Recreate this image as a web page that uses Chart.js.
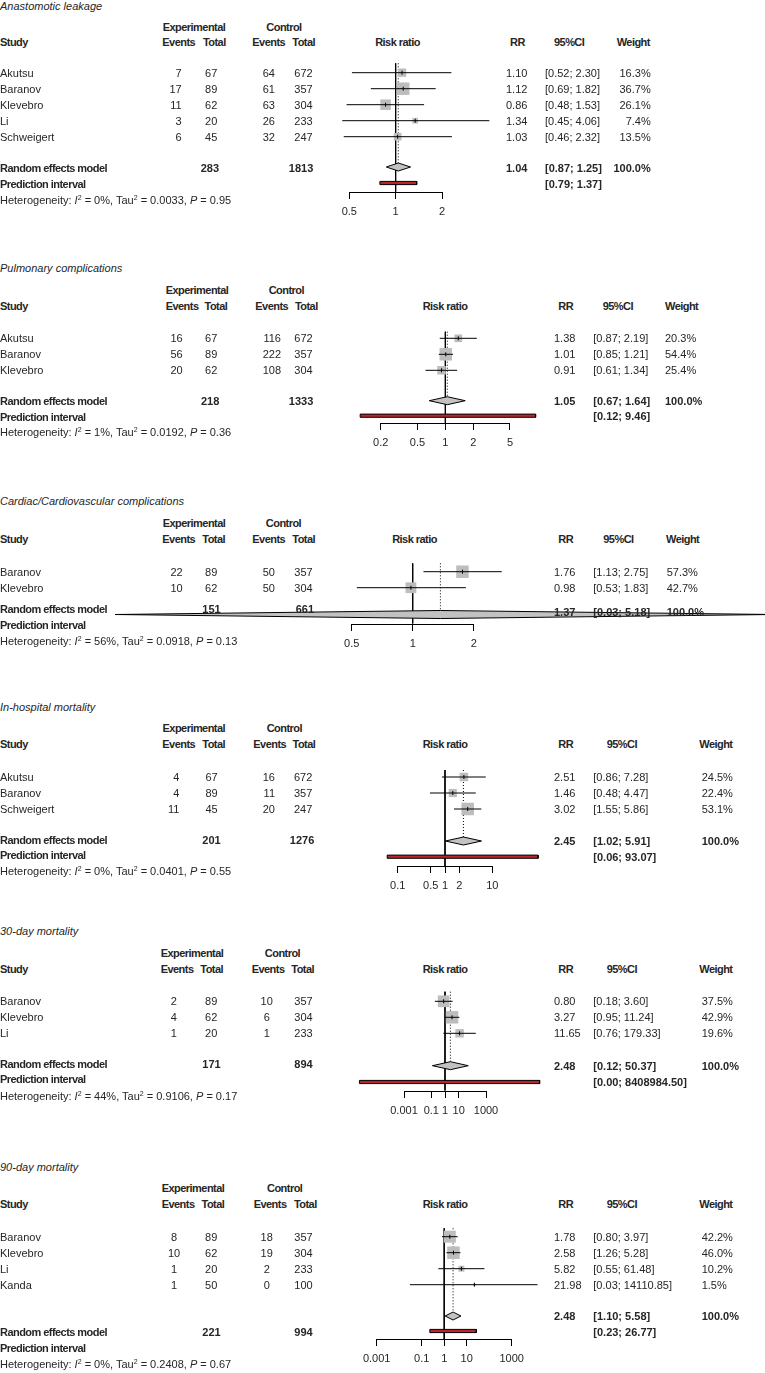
<!DOCTYPE html>
<html><head><meta charset="utf-8">
<script src="https://cdn.jsdelivr.net/npm/chart.js@4.4.1/dist/chart.umd.min.js"></script>
<style>
html,body{margin:0;padding:0;background:#fff;}
#page{position:relative;width:765px;height:1373px;overflow:hidden;background:#fff;
  font-family:"Liberation Sans",Arial,sans-serif;font-size:11px;color:#262626;}
.t{position:absolute;white-space:nowrap;line-height:16px;height:16px;}
.b{font-weight:bold;}
.bw{font-weight:bold;letter-spacing:-0.55px;}
.i{font-style:italic;}
sup{font-size:7px;line-height:0;vertical-align:4px;}
</style></head>
<body><div id="page"></div>
<script>
/* ================= DATA ================= */
// 1. Anastomotic leakage
const leakStudies    = ['Akutsu','Baranov','Klevebro','Li','Schweigert'];
const leakExpEvents  = [7, 17, 11, 3, 6];
const leakExpTotal   = [67, 89, 62, 20, 45];
const leakCtlEvents  = [64, 61, 63, 26, 32];
const leakCtlTotal   = [672, 357, 304, 233, 247];
const leakRR         = [1.10, 1.12, 0.86, 1.34, 1.03];
const leakLower      = [0.52, 0.69, 0.48, 0.45, 0.46];
const leakUpper      = [2.30, 1.82, 1.53, 4.06, 2.32];
const leakWeight     = [16.3, 36.7, 26.1, 7.4, 13.5];
const leakPooled     = [1.04, 0.87, 1.25, 100.0];
const leakPredict    = [0.79, 1.37];
const leakTotals     = [283, 1813];
const leakHetero     = ['0%', '0.0033', '0.95'];
const leakTicks      = [0.5, 1, 2];
const leakTickLabels = ['0.5', '1', '2'];

// 2. Pulmonary complications
const pulmStudies    = ['Akutsu','Baranov','Klevebro'];
const pulmExpEvents  = [16, 56, 20];
const pulmExpTotal   = [67, 89, 62];
const pulmCtlEvents  = [116, 222, 108];
const pulmCtlTotal   = [672, 357, 304];
const pulmRR         = [1.38, 1.01, 0.91];
const pulmLower      = [0.87, 0.85, 0.61];
const pulmUpper      = [2.19, 1.21, 1.34];
const pulmWeight     = [20.3, 54.4, 25.4];
const pulmPooled     = [1.05, 0.67, 1.64, 100.0];
const pulmPredict    = [0.12, 9.46];
const pulmTotals     = [218, 1333];
const pulmHetero     = ['1%', '0.0192', '0.36'];
const pulmTicks      = [0.2, 0.5, 1, 2, 5];
const pulmTickLabels = ['0.2', '0.5', '1', '2', '5'];

// 3. Cardiac/Cardiovascular complications
const cardStudies    = ['Baranov','Klevebro'];
const cardExpEvents  = [22, 10];
const cardExpTotal   = [89, 62];
const cardCtlEvents  = [50, 50];
const cardCtlTotal   = [357, 304];
const cardRR         = [1.76, 0.98];
const cardLower      = [1.13, 0.53];
const cardUpper      = [2.75, 1.83];
const cardWeight     = [57.3, 42.7];
const cardPooled     = [1.37, 0.03, 5.18, 100.0];
const cardDiamond    = [0.034, 1.37, 60];   // extent of the diamond as drawn in the picture
const cardPredict    = null;
const cardTotals     = [151, 661];
const cardHetero     = ['56%', '0.0918', '0.13'];
const cardTicks      = [0.5, 1, 2];
const cardTickLabels = ['0.5', '1', '2'];

// 4. In-hospital mortality
const hospStudies    = ['Akutsu','Baranov','Schweigert'];
const hospExpEvents  = [4, 4, 11];
const hospExpTotal   = [67, 89, 45];
const hospCtlEvents  = [16, 11, 20];
const hospCtlTotal   = [672, 357, 247];
const hospRR         = [2.51, 1.46, 3.02];
const hospLower      = [0.86, 0.48, 1.55];
const hospUpper      = [7.28, 4.47, 5.86];
const hospWeight     = [24.5, 22.4, 53.1];
const hospPooled     = [2.45, 1.02, 5.91, 100.0];
const hospPredict    = [0.06, 93.07];
const hospTotals     = [201, 1276];
const hospHetero     = ['0%', '0.0401', '0.55'];
const hospTicks      = [0.1, 0.5, 1, 2, 10];
const hospTickLabels = ['0.1', '0.5', '1', '2', '10'];

// 5. 30-day mortality
const d30Studies     = ['Baranov','Klevebro','Li'];
const d30ExpEvents   = [2, 4, 1];
const d30ExpTotal    = [89, 62, 20];
const d30CtlEvents   = [10, 6, 1];
const d30CtlTotal    = [357, 304, 233];
const d30RR          = [0.80, 3.27, 11.65];
const d30Lower       = [0.18, 0.95, 0.76];
const d30Upper       = [3.60, 11.24, 179.33];
const d30Weight      = [37.5, 42.9, 19.6];
const d30Pooled      = [2.48, 0.12, 50.37, 100.0];
const d30Predict     = [0.00000055, 8408984.50];
const d30Totals      = [171, 894];
const d30Hetero      = ['44%', '0.9106', '0.17'];
const d30Ticks       = [0.001, 0.1, 1, 10, 1000];
const d30TickLabels  = ['0.001', '0.1', '1', '10', '1000'];

// 6. 90-day mortality
const d90Studies     = ['Baranov','Klevebro','Li','Kanda'];
const d90ExpEvents   = [8, 10, 1, 1];
const d90ExpTotal    = [89, 62, 20, 50];
const d90CtlEvents   = [18, 19, 2, 0];
const d90CtlTotal    = [357, 304, 233, 100];
const d90RR          = [1.78, 2.58, 5.82, 21.98];
const d90Lower       = [0.80, 1.26, 0.55, 0.03];
const d90Upper       = [3.97, 5.28, 61.48, 14110.85];
const d90Weight      = [42.2, 46.0, 10.2, 1.5];
const d90Pooled      = [2.48, 1.10, 5.58, 100.0];
const d90Predict     = [0.23, 26.77];
const d90Totals      = [221, 994];
const d90Hetero      = ['0%', '0.2408', '0.67'];
const d90Ticks       = [0.001, 0.1, 1, 10, 1000];
const d90TickLabels  = ['0.001', '0.1', '1', '10', '1000'];

/* ================= PANELS (built from the arrays) ================= */
const panelData = [
  {title:'Anastomotic leakage', studies:leakStudies, ee:leakExpEvents, et:leakExpTotal, ce:leakCtlEvents, ct:leakCtlTotal,
   rr:leakRR, lo:leakLower, hi:leakUpper, w:leakWeight, pooled:leakPooled, diamond:null, pi:leakPredict, totals:leakTotals,
   het:leakHetero, ticks:leakTicks, tickLabels:leakTickLabels},
  {title:'Pulmonary complications', studies:pulmStudies, ee:pulmExpEvents, et:pulmExpTotal, ce:pulmCtlEvents, ct:pulmCtlTotal,
   rr:pulmRR, lo:pulmLower, hi:pulmUpper, w:pulmWeight, pooled:pulmPooled, diamond:null, pi:pulmPredict, totals:pulmTotals,
   het:pulmHetero, ticks:pulmTicks, tickLabels:pulmTickLabels},
  {title:'Cardiac/Cardiovascular complications', studies:cardStudies, ee:cardExpEvents, et:cardExpTotal, ce:cardCtlEvents, ct:cardCtlTotal,
   rr:cardRR, lo:cardLower, hi:cardUpper, w:cardWeight, pooled:cardPooled, diamond:cardDiamond, pi:cardPredict, totals:cardTotals,
   het:cardHetero, ticks:cardTicks, tickLabels:cardTickLabels},
  {title:'In-hospital mortality', studies:hospStudies, ee:hospExpEvents, et:hospExpTotal, ce:hospCtlEvents, ct:hospCtlTotal,
   rr:hospRR, lo:hospLower, hi:hospUpper, w:hospWeight, pooled:hospPooled, diamond:null, pi:hospPredict, totals:hospTotals,
   het:hospHetero, ticks:hospTicks, tickLabels:hospTickLabels},
  {title:'30-day mortality', studies:d30Studies, ee:d30ExpEvents, et:d30ExpTotal, ce:d30CtlEvents, ct:d30CtlTotal,
   rr:d30RR, lo:d30Lower, hi:d30Upper, w:d30Weight, pooled:d30Pooled, diamond:null, pi:d30Predict, totals:d30Totals,
   het:d30Hetero, ticks:d30Ticks, tickLabels:d30TickLabels},
  {title:'90-day mortality', studies:d90Studies, ee:d90ExpEvents, et:d90ExpTotal, ce:d90CtlEvents, ct:d90CtlTotal,
   rr:d90RR, lo:d90Lower, hi:d90Upper, w:d90Weight, pooled:d90Pooled, diamond:null, pi:d90Predict, totals:d90Totals,
   het:d90Hetero, ticks:d90Ticks, tickLabels:d90TickLabels}
];

/* ================= LAYOUT (page pixels) ================= */
const panelLayout = [
  {titleY:6, h1Y:26.7, h2Y:42.3, row0:72.7, sumY:167.7, piY:184, hetY:200, rSumY:167.7, rPiY:184.3,
   plotTop:63.3, axisY:191.7, diamondY:167, piBarY:183, p0:349.3, p1:442,
   expEv:[181.7,'right'], expTot:217.3, ctlEv:[275,'right'], ctlTot:312.7, sumExp:219, sumCtl:313.3,
   hdr:[194,162.3,225.7,284,252.3,315], rrTitleC:397.5, rrHdr:510, rrX:506, ciHdr:554, ciX:545, wHdr:616.7, wX:650.7, wAlign:'right'},
  {titleY:268.3, h1Y:290, h2Y:306, row0:338.3, sumY:401, piY:416.7, hetY:432.3, rSumY:400.7, rPiY:416,
   plotTop:331.7, axisY:423.3, diamondY:400.7, piBarY:415.7, p0:380.7, p1:510,
   expEv:[182.7,'right'], expTot:217.3, ctlEv:[281,'right'], ctlTot:312.7, sumExp:219.3, sumCtl:313.3,
   hdr:[197,165.7,227.3,286.3,255.3,317.7], rrTitleC:445, rrHdr:558.3, rrX:554, ciHdr:602.7, ciX:593.3, wHdr:665, wX:665, wAlign:'left'},
  {titleY:501, h1Y:522.7, h2Y:539, row0:571.7, sumY:609, piY:625, hetY:641, rSumY:611.7, rPiY:null,
   plotTop:563.3, axisY:623.5, diamondY:614.5, piBarY:null, p0:351.7, p1:473.7,
   expEv:[182.7,'right'], expTot:217.3, ctlEv:[275,'right'], ctlTot:312.7, sumExp:220.7, sumCtl:314,
   hdr:[194,162.3,225,283.5,252.3,315], rrTitleC:414.5, rrHdr:558.3, rrX:554, ciHdr:603.3, ciX:593.3, wHdr:666, wX:666.7, wAlign:'left'},
  {titleY:706.7, h1Y:728.3, h2Y:744.3, row0:777, sumY:839.7, piY:855, hetY:870.7, rSumY:841, rPiY:856.7,
   plotTop:770, axisY:866, diamondY:841, piBarY:856.7, p0:397.7, p1:492.3,
   expEv:[179.3,'right'], expTot:217.7, ctlEv:[275,'right'], ctlTot:312.3, sumExp:220.7, sumCtl:314.3,
   hdr:[193.8,162.3,225,284.3,253.3,315.3], rrTitleC:445, rrHdr:558.3, rrX:554, ciHdr:606.7, ciX:593.3, wHdr:699.3, wX:701.7, wAlign:'left'},
  {titleY:931, h1Y:952.7, h2Y:968.7, row0:1001.3, sumY:1063.7, piY:1079.3, hetY:1095.5, rSumY:1065.7, rPiY:1082,
   plotTop:991.7, axisY:1090.5, diamondY:1065.7, piBarY:1082, p0:404, p1:486,
   expEv:[173.8,'center'], expTot:217.3, ctlEv:[266.7,'center'], ctlTot:312.7, sumExp:220.7, sumCtl:312.7,
   hdr:[192,160.7,223,282.5,251.7,314], rrTitleC:445, rrHdr:558.3, rrX:554, ciHdr:606.7, ciX:593.3, wHdr:699.3, wX:701.7, wAlign:'left'},
  {titleY:1166.7, h1Y:1188.3, h2Y:1204, row0:1236.7, sumY:1332.3, piY:1348.3, hetY:1364.3, rSumY:1316, rPiY:1331.7,
   plotTop:1228.3, axisY:1339.3, diamondY:1316, piBarY:1331, p0:376.7, p1:511.7,
   expEv:[174,'center'], expTot:217.3, ctlEv:[266.7,'center'], ctlTot:312.7, sumExp:220.7, sumCtl:312.7,
   hdr:[193,161.7,224.3,284.7,253.7,316.7], rrTitleC:445, rrHdr:558.3, rrX:554, ciHdr:606.7, ciX:593.3, wHdr:699.3, wX:701.7, wAlign:'left'}
];

/* ================= RENDERING ================= */
Chart.defaults.font.family = "'Liberation Sans', Arial, sans-serif";
Chart.defaults.font.size = 11;
Chart.defaults.color = '#262626';

const page = document.getElementById('page');
const W = 765, PITCH = 16;
const SQUARE_GRAY = '#bdbdbd', DIAMOND_GRAY = '#c2c2c2', PI_RED = '#b8262c';
const MAX_SQUARE = 12.5;

function txt(x, y, html, align, cls) {
  const d = document.createElement('div');
  d.className = 't' + (cls ? ' ' + cls : '');
  d.innerHTML = html;
  d.style.top = (y - 8) + 'px';
  if (align === 'right') d.style.right = (W - x) + 'px';
  else if (align === 'center') { d.style.left = x + 'px'; d.style.transform = 'translateX(-50%)'; }
  else d.style.left = x + 'px';
  page.appendChild(d);
}
const ci = (a, b) => '[' + a.toFixed(2) + '; ' + b.toFixed(2) + ']';

function mkCanvas(top, h) {
  const wrap = document.createElement('div');
  wrap.style.cssText = 'position:absolute;left:0;top:' + top + 'px;width:' + W + 'px;height:' + h + 'px;';
  const cv = document.createElement('canvas');
  cv.width = W; cv.height = h;
  cv.style.width = W + 'px'; cv.style.height = h + 'px';
  wrap.appendChild(cv); page.appendChild(wrap);
  return cv;
}

function drawText(d, L) {
  txt(0, L.titleY, d.title, 'left', 'i');
  txt(L.hdr[0], L.h1Y, 'Experimental', 'center', 'bw');
  txt(L.hdr[3], L.h1Y, 'Control', 'center', 'bw');
  txt(0, L.h2Y, 'Study', 'left', 'bw');
  txt(L.hdr[1], L.h2Y, 'Events', 'left', 'bw');
  txt(L.hdr[2], L.h2Y, 'Total', 'right', 'bw');
  txt(L.hdr[4], L.h2Y, 'Events', 'left', 'bw');
  txt(L.hdr[5], L.h2Y, 'Total', 'right', 'bw');
  txt(L.rrTitleC, L.h2Y, 'Risk ratio', 'center', 'bw');
  txt(L.rrHdr, L.h2Y, 'RR', 'left', 'bw');
  txt(L.ciHdr, L.h2Y, '95%CI', 'left', 'bw');
  txt(L.wHdr, L.h2Y, 'Weight', 'left', 'bw');
  d.studies.forEach((s, i) => {
    const y = L.row0 + i * PITCH;
    txt(0, y, s, 'left');
    txt(L.expEv[0], y, String(d.ee[i]), L.expEv[1]);
    txt(L.expTot, y, String(d.et[i]), 'right');
    txt(L.ctlEv[0], y, String(d.ce[i]), L.ctlEv[1]);
    txt(L.ctlTot, y, String(d.ct[i]), 'right');
    txt(L.rrX, y, d.rr[i].toFixed(2), 'left');
    txt(L.ciX, y, ci(d.lo[i], d.hi[i]), 'left');
    txt(L.wX, y, d.w[i].toFixed(1) + '%', L.wAlign);
  });
  txt(0, L.sumY, 'Random effects model', 'left', 'bw');
  txt(L.sumExp, L.sumY, String(d.totals[0]), 'right', 'b');
  txt(L.sumCtl, L.sumY, String(d.totals[1]), 'right', 'b');
  txt(0, L.piY, 'Prediction interval', 'left', 'bw');
  txt(0, L.hetY, 'Heterogeneity: <i>I</i><sup>2</sup> = ' + d.het[0] + ', Tau<sup>2</sup> = ' + d.het[1] +
      ', <i>P</i> = ' + d.het[2], 'left');
  txt(L.rrX, L.rSumY, d.pooled[0].toFixed(2), 'left', 'b');
  txt(L.ciX, L.rSumY, ci(d.pooled[1], d.pooled[2]), 'left', 'b');
  txt(L.wX, L.rSumY, d.pooled[3].toFixed(1) + '%', L.wAlign, 'b');
  if (d.pi && L.rPiY) txt(L.ciX, L.rPiY, ci(d.pi[0], d.pi[1]), 'left', 'b');
}

function drawCharts(d, L) {
  const t0 = d.ticks[0], t1 = d.ticks[d.ticks.length - 1];
  const toRow = px => (px - L.row0) / PITCH;
  const vAt = px => Math.pow(10, Math.log10(t0) + (px - L.p0) / (L.p1 - L.p0) * (Math.log10(t1) - Math.log10(t0)));

  /* ---- marks chart (full-width chart area, hidden scales) ---- */
  const top = Math.round(L.plotTop - 10);
  const h = Math.round(L.axisY + 4 - top);
  const cv = mkCanvas(top, h);
  const yTop = toRow(L.plotTop), yAxis = toRow(L.axisY);
  const yD = toRow(L.diamondY), dH = 4 / PITCH;
  const est = d.pooled[0];
  const dia = d.diamond || [d.pooled[1], d.pooled[0], d.pooled[2]];
  const line = (pts, extra) => Object.assign({showLine:true, data:pts, borderColor:'#000', borderWidth:1,
    pointRadius:0, pointHoverRadius:0, fill:false, tension:0}, extra || {});
  const ds = [];
  // null-effect line and pooled-estimate dotted line
  ds.push(line([{x:1, y:yTop}, {x:1, y:yAxis}], {order:10}));
  ds.push(line([{x:est, y:yTop}, {x:est, y:yD - dH}], {order:10, borderDash:[1, 2]}));
  // study squares
  const wmax = Math.max.apply(null, d.w);
  ds.push({showLine:false, data:d.rr.map((v, i) => ({x:v, y:i})), pointStyle:'rect',
    pointRadius:d.w.map(w => MAX_SQUARE * Math.sqrt(w / wmax) / Math.SQRT2),
    pointBackgroundColor:SQUARE_GRAY, pointBorderWidth:0, pointHoverRadius:0, order:8});
  // confidence interval lines
  d.rr.forEach((v, i) => ds.push(line([{x:d.lo[i], y:i}, {x:d.hi[i], y:i}], {order:3})));
  // point-estimate marks
  ds.push({showLine:false, data:d.rr.map((v, i) => ({x:v, y:i})), pointStyle:'line', pointRotation:90,
    pointRadius:2, pointBorderColor:'#000', pointBorderWidth:1, pointHoverRadius:0, order:2});
  // pooled diamond
  ds.push(line([{x:dia[0], y:yD}, {x:dia[1], y:yD - dH}, {x:dia[2], y:yD}, {x:dia[1], y:yD + dH}, {x:dia[0], y:yD}],
    {fill:'shape', backgroundColor:DIAMOND_GRAY, order:5}));
  // prediction interval bar
  if (d.pi && L.piBarY) {
    const yP = toRow(L.piBarY), pH = 1.6 / PITCH;
    ds.push(line([{x:d.pi[0], y:yP - pH}, {x:d.pi[1], y:yP - pH}, {x:d.pi[1], y:yP + pH}, {x:d.pi[0], y:yP + pH}, {x:d.pi[0], y:yP - pH}],
      {fill:'shape', backgroundColor:PI_RED, order:5}));
  }
  new Chart(cv, {
    type:'scatter',
    data:{datasets:ds},
    options:{
      responsive:false, animation:false, events:[], devicePixelRatio:1,
      layout:{padding:0, autoPadding:false},
      plugins:{legend:{display:false}, tooltip:{enabled:false}},
      scales:{
        x:{type:'logarithmic', display:false, min:vAt(0), max:vAt(W)},
        y:{type:'linear', display:false, reverse:true, min:toRow(top), max:toRow(top + h)}
      }
    }
  });

  /* ---- axis chart (chart area = tick range) ---- */
  const aTop = Math.round(L.axisY) - 4;
  const cvA = mkCanvas(aTop, 32);
  new Chart(cvA, {
    type:'scatter',
    data:{datasets:[]},
    options:{
      responsive:false, animation:false, events:[], devicePixelRatio:1,
      layout:{padding:{left:L.p0, right:W - L.p1, top:2, bottom:0}, autoPadding:false},
      plugins:{legend:{display:false}, tooltip:{enabled:false}},
      scales:{
        x:{type:'logarithmic', position:'bottom', min:t0, max:t1,
          afterBuildTicks:s => { s.ticks = d.ticks.map(v => ({value:v})); },
          afterFit:s => { s.height = 28; },
          grid:{display:true, drawOnChartArea:false, drawTicks:true, tickLength:7, color:'#000', lineWidth:1},
          border:{display:true, color:'#000', width:1},
          ticks:{autoSkip:false, maxRotation:0, minRotation:0, padding:6, color:'#262626',
            font:{size:11}, callback:(v, i) => d.tickLabels[i]}},
        y:{type:'linear', display:false, min:0, max:1}
      }
    }
  });
}

panelData.forEach((d, k) => { drawCharts(d, panelLayout[k]); drawText(d, panelLayout[k]); });
</script>
</body></html>
